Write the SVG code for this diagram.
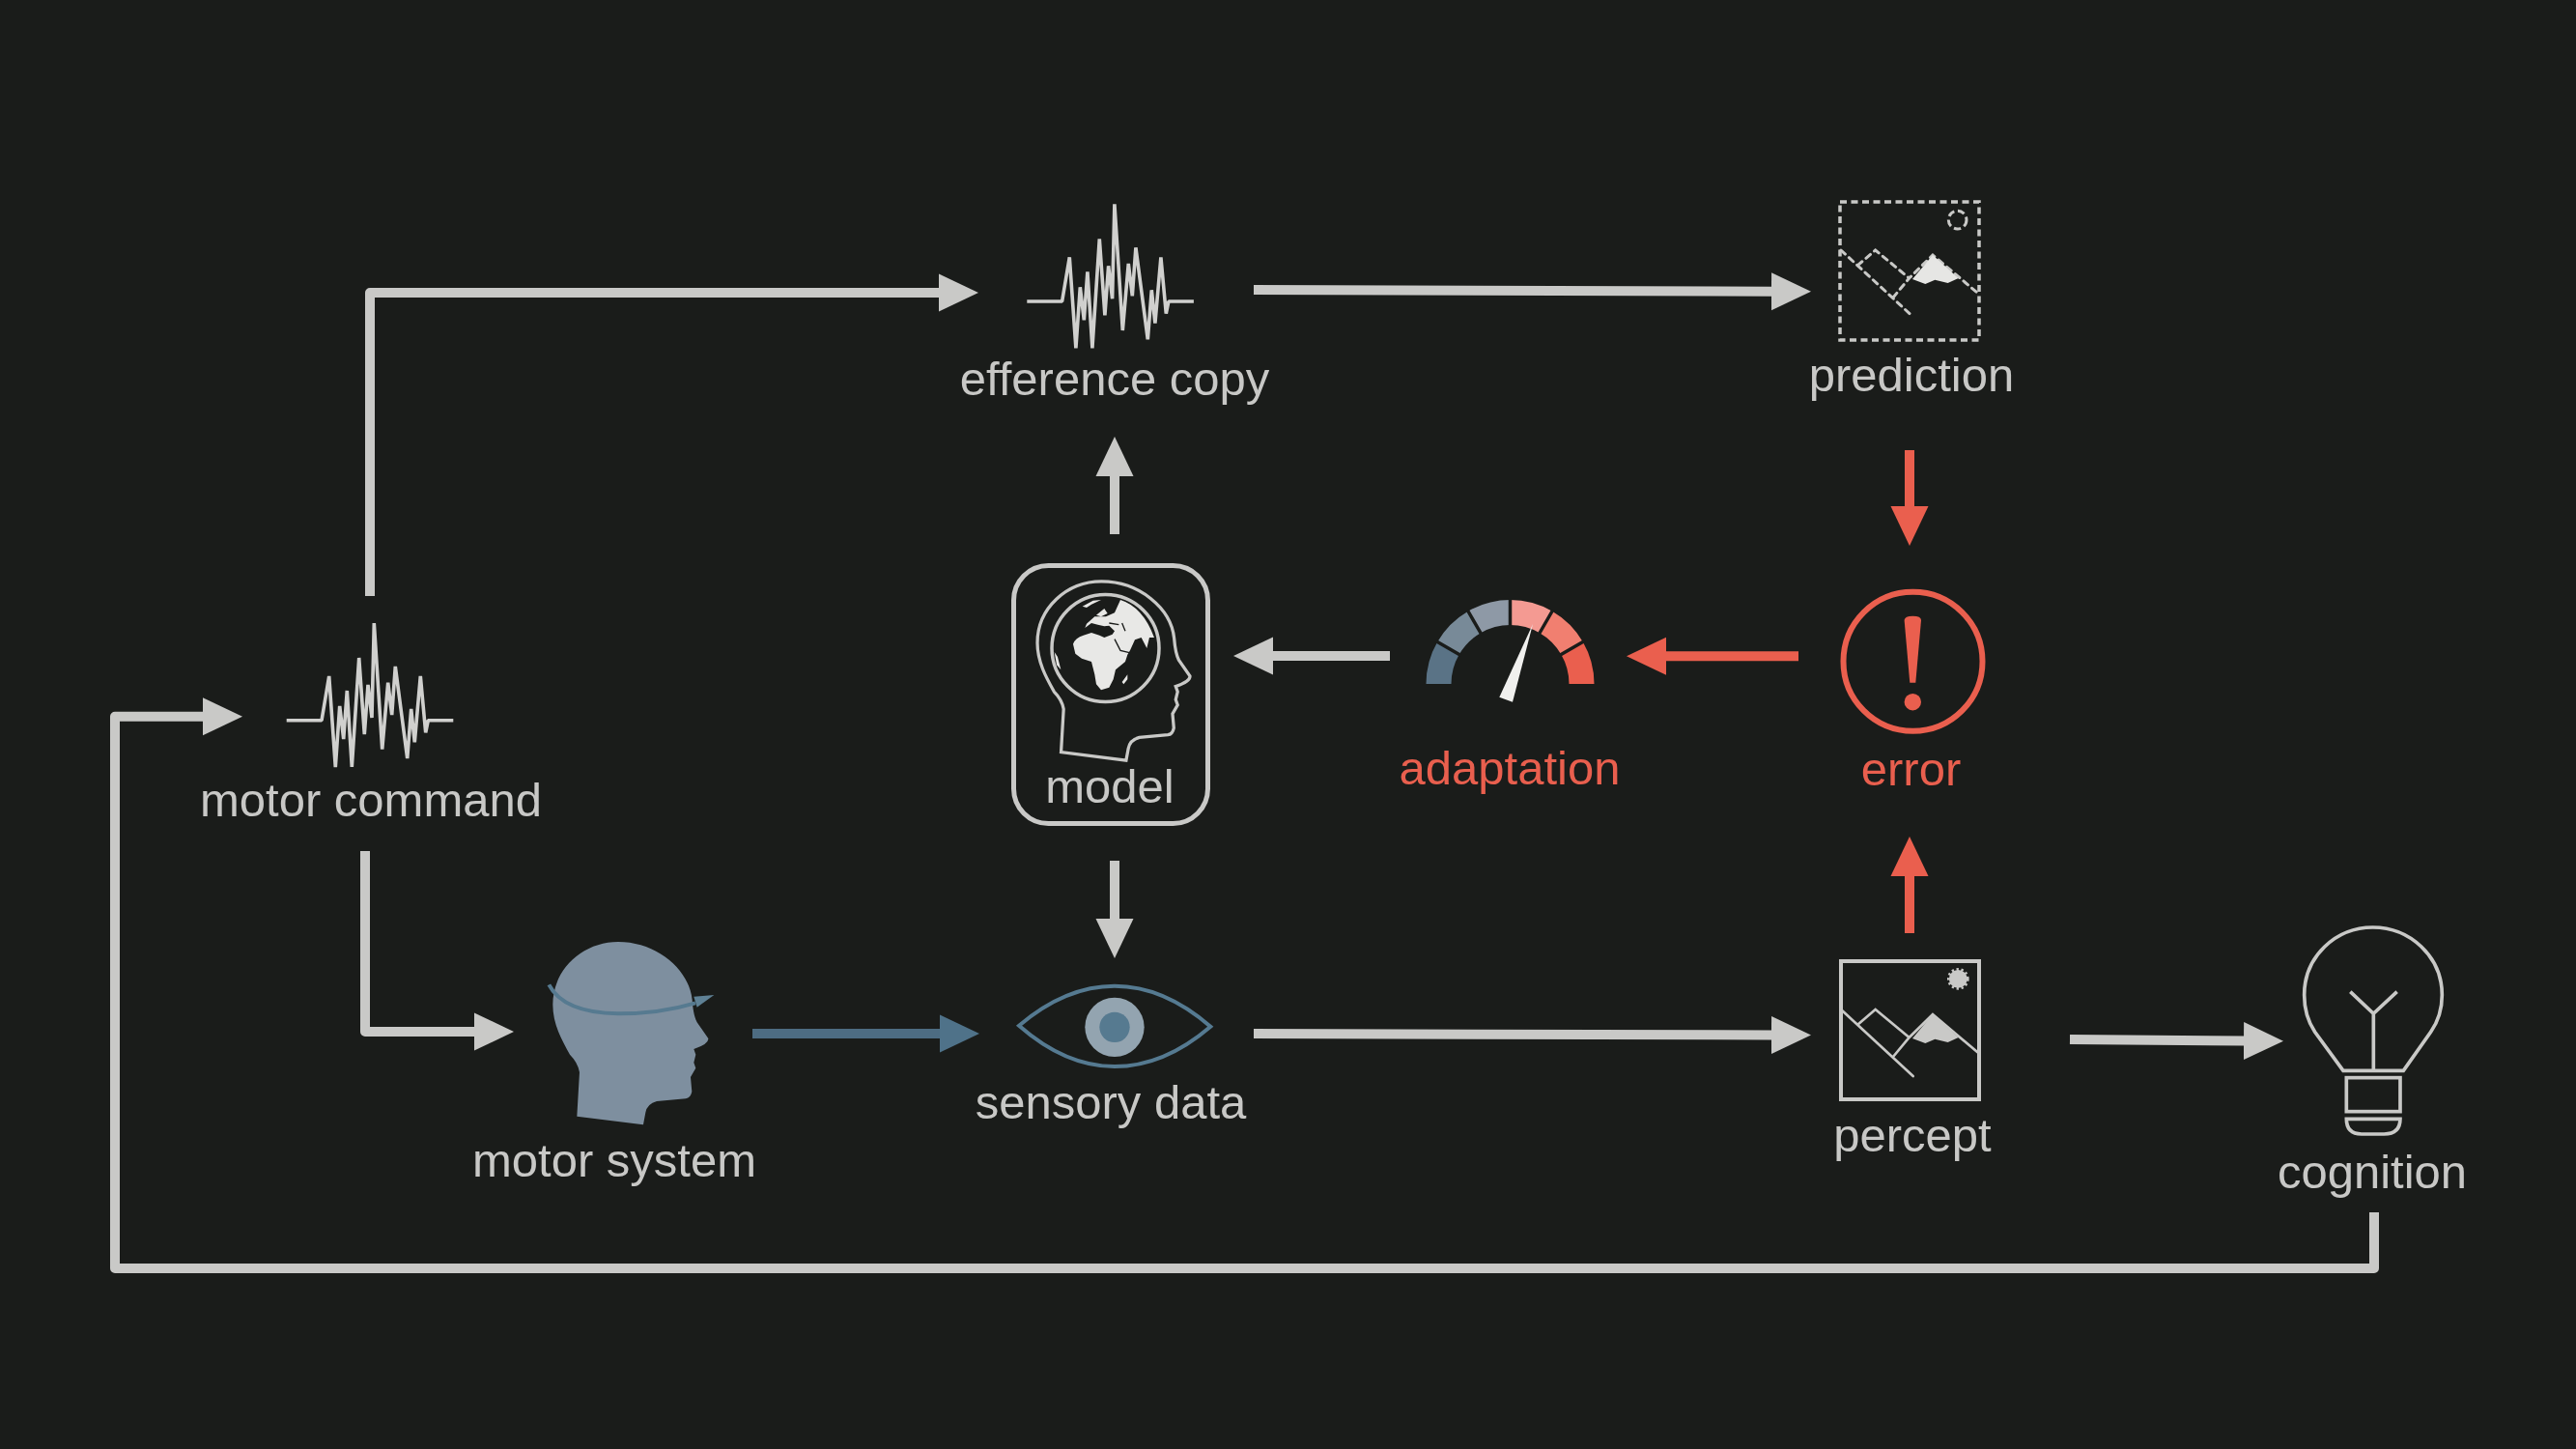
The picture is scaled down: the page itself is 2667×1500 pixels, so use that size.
<svg xmlns="http://www.w3.org/2000/svg" width="2667" height="1500" viewBox="0 0 2667 1500">
<style>
text{font-family:"Liberation Sans",Arial,sans-serif;font-size:49px;text-anchor:middle;fill:#c8c8c6}
text.r{fill:#e95f4e}
.c{fill:none;stroke:#c9c9c7;stroke-width:10;stroke-linejoin:round}
.cr{fill:none;stroke:#ea5f4e;stroke-width:10}
.cb{fill:none;stroke:#4d6c82;stroke-width:10}
</style>
<defs>
<marker id="ag" markerUnits="userSpaceOnUse" markerWidth="41" markerHeight="40" refX="1" refY="20" orient="auto"><path d="M0 0.500L41 20L0 39.500Z" fill="#c9c9c7"/></marker>
<marker id="ar" markerUnits="userSpaceOnUse" markerWidth="41" markerHeight="40" refX="1" refY="20" orient="auto"><path d="M0 0.500L41 20L0 39.500Z" fill="#ea5f4e"/></marker>
<marker id="ab" markerUnits="userSpaceOnUse" markerWidth="41" markerHeight="40" refX="1" refY="20" orient="auto"><path d="M0 0.500L41 20L0 39.500Z" fill="#4f7289"/></marker>
<polyline id="wave" fill="none" stroke="#d0d0ce" stroke-width="3.600" stroke-linejoin="bevel" points="296.700,745.700 333,745.700 340.700,700 347.300,794 351.700,731 355.700,765 359.300,715 364.300,794 371.700,681 377.300,760 381,709 385,743 387.300,645 395.700,775.700 401.700,706.700 405.700,740 409.300,690 421.700,785 425.700,734 429.300,768.300 435.300,700 440.700,758.300 443.300,745.700 469.300,745.700"/>
<path id="head" d="M172 587L180 450Q175 420 150 395C125 350 97 300 97 240C97 130 190 45 300 45C420 45 520 130 530 225C532 250 535 275 545 295L580 345Q582 362 535 378L541 395L535 420L541 437L525 465L529 510Q525 530 510 532L420 540Q390 548 385 575L378 613Z"/>
<g id="scene" fill="none" stroke-linecap="round">
<path d="M138 225L362 432M190 272L245 225L350 312M300 372L350 312L423 240L565 360"/>
</g>
<path id="snow" d="M423 240L503 312L470 327L430 317L400 330L360 315Z"/>
</defs>
<rect width="2667" height="1500" fill="#1a1c1a"/>
<g id="connectors">
<path class="c" d="M383 617V303H973" marker-end="url(#ag)"/>
<path class="c" d="M1298 300L1835 301.700" marker-end="url(#ag)"/>
<path class="c" d="M1154 553V492" marker-end="url(#ag)"/>
<path class="cr" d="M1977 466V525" marker-end="url(#ar)"/>
<path class="cr" d="M1862 679.300H1724" marker-end="url(#ar)"/>
<path class="c" d="M1439 679H1317" marker-end="url(#ag)"/>
<path class="c" d="M1154 891V952" marker-end="url(#ag)"/>
<path class="c" d="M378 881V1068H492" marker-end="url(#ag)"/>
<path class="cb" d="M779 1070H974" marker-end="url(#ab)"/>
<path class="c" d="M1298 1070L1835 1071.500" marker-end="url(#ag)"/>
<path class="cr" d="M1977 966V906" marker-end="url(#ar)"/>
<path class="c" d="M2143 1076L2324 1077.500" marker-end="url(#ag)"/>
<path class="c" d="M2458 1255V1313H119V741.700H211" marker-end="url(#ag)"/>
</g>
<g id="motor-command">
<use href="#wave"/>
<text x="384" y="845">motor command</text>
</g>
<g id="efference-copy">
<use href="#wave" transform="translate(766.600,-433.700)"/>
<text x="1154" y="409">efference copy</text>
</g>
<g id="prediction">
<rect x="1905" y="209" width="144" height="143" fill="none" stroke="#c9c9c7" stroke-width="3.500" stroke-dasharray="7 4.500"/>
<g transform="translate(1860,184) scale(.3333)">
<use href="#scene" stroke="#c9c9c7" stroke-width="9" stroke-dasharray="18 16"/>
<use href="#snow" fill="#e6e6e4"/>
<circle cx="500" cy="131" r="28" fill="none" stroke="#c9c9c7" stroke-width="9" stroke-dasharray="22 11"/>
</g>
<text x="1979" y="405">prediction</text>
</g>
<g id="error">
<circle cx="1980.500" cy="684.700" r="72" fill="none" stroke="#ea5f4e" stroke-width="6"/>
<path d="M1971.600 642Q1972 637.700 1980.300 637.700Q1989 637.700 1989 642L1983.300 706.700H1977.300Z" fill="#ea5f4e"/>
<circle cx="1980.300" cy="726.700" r="8.700" fill="#ea5f4e"/>
<text class="r" x="1978.500" y="813">error</text>
</g>
<g id="adaptation">
<g transform="translate(1563.500,708)">
<path d="M-87 0A87 87 0 0 1-75.300-43.500L-52.800-30.500A61 61 0 0 0-61 0Z" fill="#5a7386"/>
<path d="M-75.300-43.500A87 87 0 0 1-43.500-75.300L-30.500-52.800A61 61 0 0 0-52.800-30.500Z" fill="#788a98"/>
<path d="M-43.500-75.300A87 87 0 0 1 0-87V-61A61 61 0 0 0-30.500-52.800Z" fill="#8e99a6"/>
<path d="M0-87A87 87 0 0 1 43.500-75.300L30.500-52.800A61 61 0 0 0 0-61Z" fill="#f49a92"/>
<path d="M43.500-75.300A87 87 0 0 1 75.300-43.500L52.800-30.500A61 61 0 0 0 30.500-52.800Z" fill="#f17f70"/>
<path d="M75.300-43.500A87 87 0 0 1 87 0H61A61 61 0 0 0 52.800-30.500Z" fill="#ea5f4e"/>
<path d="M-77-44.500L-51-29.500M-44.500-77L-29.500-51M0-89V-59M44.500-77L29.500-51M77-44.500L51-29.500" stroke="#1a1c1a" stroke-width="3.500" fill="none"/>
</g>
<path d="M1587 646L1552.300 721.700L1566 726.700Z" fill="#f0f0ee"/>
<text class="r" x="1563" y="812">adaptation</text>
</g>
<g id="model">
<rect x="1049.500" y="585.500" width="201" height="267" rx="36" fill="none" stroke="#c9c9c7" stroke-width="5"/>
<use href="#head" transform="translate(1042.300,587.300) scale(.327,.326)" fill="none" stroke="#c9c9c7" stroke-width="10"/>
<circle cx="1144.500" cy="671" r="55.500" fill="none" stroke="#c9c9c7" stroke-width="3.500"/>
<g transform="translate(1080,605) scale(.3333)">
<path fill="#e8e8e6" d="M240 48Q310 70 345 165L330 165L322 198L305 165L285 172L270 205L262 218L255 240L225 265L218 295L205 320L180 328L165 310L160 280L150 240L120 230L100 215L93 185Q100 165 125 158L150 150L175 158L190 165L215 155L222 145L205 128L190 130L170 125L150 120L130 135L135 122L160 100L195 100L222 88ZM122 68L155 50L180 48L150 62L135 72ZM165 95L190 75L200 90L180 100ZM245 303L262 280L262 295L250 310ZM35 210L45 225L55 265L42 250Z"/>
<path d="M222 170L240 205L268 212M205 120L235 125M245 120L255 145" fill="none" stroke="#1a1c1a" stroke-width="4"/>
</g>
<text x="1149" y="831">model</text>
</g>
<g id="motor-system">
<use href="#head" transform="translate(540,960) scale(.3333)" fill="#7e8f9f"/>
<g transform="translate(540,960) scale(.3333)">
<path d="M85 178Q130 265 300 268Q430 268 540 235" fill="none" stroke="#567a90" stroke-width="12"/>
<path d="M598 210L535 215L545 248Z" fill="#5f8195"/>
</g>
<text x="636" y="1218">motor system</text>
</g>
<g id="sensory-data">
<g transform="translate(1030,1000) scale(.3333)">
<path d="M75 185Q220 62 372 62Q525 62 670 188Q525 312 372 312Q220 312 75 185Z" fill="none" stroke="#557a91" stroke-width="12"/>
<circle cx="372" cy="190" r="92" fill="#93a4b0"/>
<circle cx="372" cy="190" r="47" fill="#567a90"/>
</g>
<text x="1150" y="1158">sensory data</text>
</g>
<g id="percept">
<rect x="1906" y="995" width="143" height="143" fill="none" stroke="#c9c9c7" stroke-width="4"/>
<g transform="translate(1860,970) scale(.3333)">
<use href="#scene" stroke="#c9c9c7" stroke-width="8"/>
<use href="#snow" fill="#c9c9c7"/>
<circle cx="502" cy="130" r="28" fill="#c9c9c7"/>
<circle cx="502" cy="130" r="30" fill="none" stroke="#c9c9c7" stroke-width="8" stroke-dasharray="7 8"/>
</g>
<text x="1980" y="1192">percept</text>
</g>
<g id="cognition">
<g transform="translate(2340,940) scale(.3333)" fill="none" stroke="#c9c9c7" stroke-width="11">
<path d="M258 505L170 385Q137 335 137 270C137 150 235 60 350 60C465 60 565 150 565 270Q565 335 530 385L445 505Z"/>
<path d="M352 505V328M280 260L352 328L425 260"/>
<rect x="268" y="527" width="167" height="105"/>
<path d="M268 655H435Q435 702 385 702H315Q268 702 268 655Z"/>
</g>
<text x="2456" y="1230">cognition</text>
</g>
</svg>
